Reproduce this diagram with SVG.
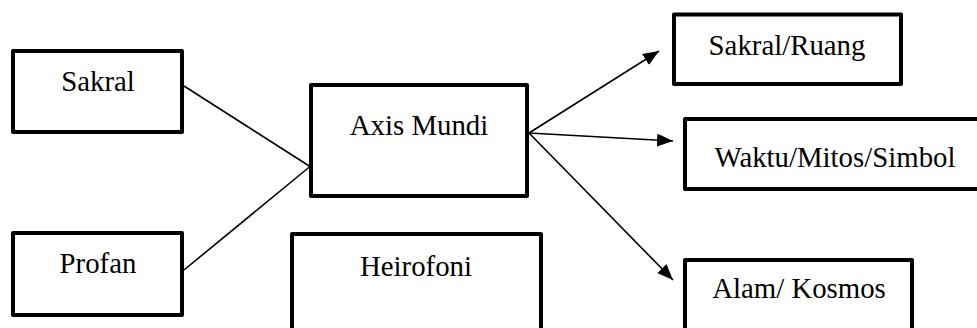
<svg xmlns="http://www.w3.org/2000/svg" width="977" height="328" viewBox="0 0 977 328">
<style>
.box{fill:#fff;stroke:#000;stroke-width:4;stroke-linejoin:round}
.lbl{font-family:'Liberation Serif','Times New Roman',Times,serif;font-size:28.8px;fill:#000;text-anchor:middle}
.edge{stroke:#000;stroke-width:1.6;fill:none}
</style>
<defs>
<marker id="arr" markerUnits="userSpaceOnUse" markerWidth="17" markerHeight="14" refX="16" refY="6.5" orient="auto" viewBox="0 0 17 14">
<path d="M0,0 L16,6.5 L0,13 z" fill="#000"/>
</marker>
</defs>
<rect width="977" height="328" fill="#fff"/>
<g id="connectors">
<line class="edge" x1="184" y1="86" x2="310" y2="166.5"/>
<line class="edge" x1="184" y1="270" x2="310" y2="166.5"/>
<line class="edge" x1="529" y1="133" x2="659" y2="51" marker-end="url(#arr)"/>
<line class="edge" x1="529" y1="133" x2="673" y2="141" marker-end="url(#arr)"/>
<line class="edge" x1="529" y1="133" x2="673" y2="280" marker-end="url(#arr)"/>
</g>
<g id="sakral"><rect class="box" x="13" y="51" width="169" height="81"/><text class="lbl" x="98" y="91">Sakral</text></g>
<g id="profan"><rect class="box" x="13" y="233" width="169" height="82"/><text class="lbl" x="98" y="273">Profan</text></g>
<g id="axis-mundi"><rect class="box" x="311" y="85" width="216" height="111"/><text class="lbl" x="419" y="135">Axis Mundi</text></g>
<g id="heirofoni"><rect class="box" x="292" y="234" width="249" height="100"/><text class="lbl" x="416" y="276">Heirofoni</text></g>
<g id="sakral-ruang"><rect class="box" x="674" y="14.5" width="227" height="69.5"/><text class="lbl" x="787" y="55">Sakral/Ruang</text></g>
<g id="waktu"><rect class="box" x="685" y="119" width="300" height="70"/><text class="lbl" x="835" y="167">Waktu/Mitos/Simbol</text></g>
<g id="alam"><rect class="box" x="685" y="260" width="227" height="80"/><text class="lbl" x="799" y="298">Alam/ Kosmos</text></g>
</svg>
